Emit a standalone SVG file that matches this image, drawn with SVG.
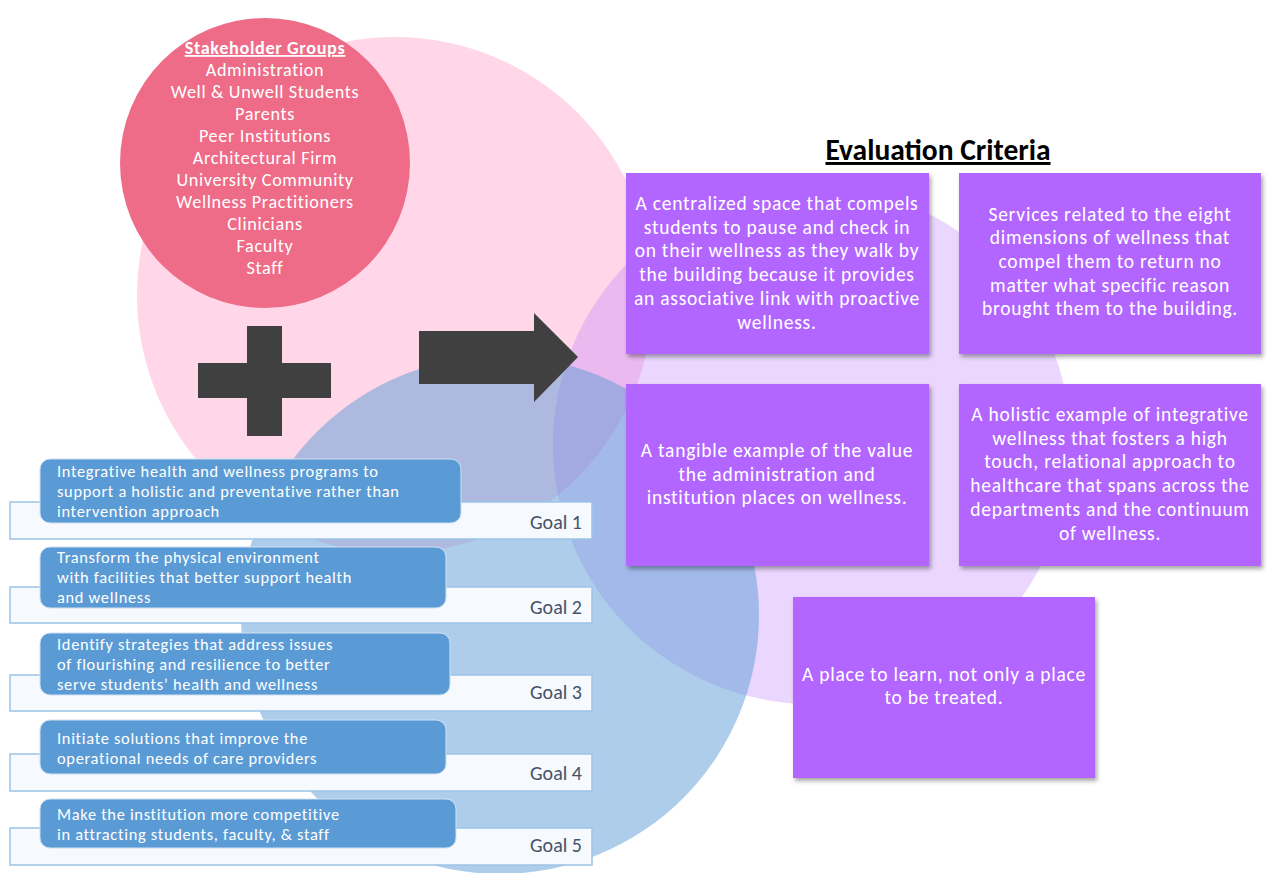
<svg xmlns="http://www.w3.org/2000/svg" width="1267" height="873" viewBox="0 0 1267 873">
  <style>
    .f { font-family: Carlito, Calibri, Lato, "Liberation Sans", sans-serif; }
    .stake { fill: #ffffff; font-size: 18.2px; letter-spacing: 0.65px; text-anchor: middle; }
    .goalbox { fill: #5b9bd5; stroke: #cfe0f1; stroke-width: 1; }
    .goalframe { fill: #f6f9fd; stroke: #9dc3e6; stroke-width: 1.5; }
    .goaltxt { fill: #ffffff; font-size: 16.4px; letter-spacing: 0.7px; }
    .goallbl { fill: #44546a; font-size: 20px; text-anchor: end; }
    .crit { fill: #b266ff; filter: url(#shadow); }
    .crittxt { fill: #ffffff; font-size: 19.5px; letter-spacing: 0.75px; text-anchor: middle; }
    .dark { fill: #404040; }
  </style>
  <defs>
    <filter id="shadow" x="-10%" y="-10%" width="125%" height="125%">
      <feDropShadow dx="2" dy="3" stdDeviation="2" flood-color="#000000" flood-opacity="0.35"/>
    </filter>
  </defs>

  <rect width="1267" height="873" fill="#ffffff"/>

  <!-- background circles -->
  <g id="backdrop">
    <circle cx="395" cy="295" r="258" fill="#ffd7e9"/>
    <circle cx="812" cy="445" r="259" fill="#b266ff" fill-opacity="0.27"/>
    <circle cx="500" cy="615" r="259" fill="#5b9bd5" fill-opacity="0.5"/>
  </g>

  <!-- stakeholder circle -->
  <g id="stakeholders" class="f">
    <circle cx="265" cy="163" r="145" fill="#ee6c87"/>
    <text class="stake" x="265" y="54" font-weight="bold" text-decoration="underline">Stakeholder Groups</text>
    <text class="stake" x="265" y="76">Administration</text>
    <text class="stake" x="265" y="98">Well &amp; Unwell Students</text>
    <text class="stake" x="265" y="120">Parents</text>
    <text class="stake" x="265" y="142">Peer Institutions</text>
    <text class="stake" x="265" y="164">Architectural Firm</text>
    <text class="stake" x="265" y="186">University Community</text>
    <text class="stake" x="265" y="208">Wellness Practitioners</text>
    <text class="stake" x="265" y="230">Clinicians</text>
    <text class="stake" x="265" y="252">Faculty</text>
    <text class="stake" x="265" y="274">Staff</text>
  </g>

  <!-- plus and arrow -->
  <g id="connectors">
    <polygon class="dark" points="247,326 282,326 282,363 331,363 331,398 282,398 282,436 247,436 247,398 198,398 198,363 247,363"/>
    <polygon class="dark" points="419,331 534,331 534,313 578,357 534,402 534,384 419,384"/>
  </g>

  <!-- goals -->
  <g id="goal1" class="f">
    <rect class="goalframe" x="10" y="502" width="582" height="37"/>
    <rect class="goalbox" x="40" y="459" width="421" height="64" rx="10"/>
    <text class="goaltxt" x="57" y="477">Integrative health and wellness programs to</text>
    <text class="goaltxt" x="57" y="497">support a holistic and preventative rather than</text>
    <text class="goaltxt" x="57" y="517">intervention approach</text>
    <text class="goallbl" x="582" y="529">Goal 1</text>
  </g>
  <g id="goal2" class="f">
    <rect class="goalframe" x="10" y="587" width="582" height="36"/>
    <rect class="goalbox" x="40" y="547" width="406" height="61" rx="10"/>
    <text class="goaltxt" x="57" y="563">Transform the physical environment</text>
    <text class="goaltxt" x="57" y="583">with facilities that better support health</text>
    <text class="goaltxt" x="57" y="603">and wellness</text>
    <text class="goallbl" x="582" y="614">Goal 2</text>
  </g>
  <g id="goal3" class="f">
    <rect class="goalframe" x="10" y="675" width="582" height="36"/>
    <rect class="goalbox" x="40" y="633" width="410" height="62" rx="10"/>
    <text class="goaltxt" x="57" y="650">Identify strategies that address issues</text>
    <text class="goaltxt" x="57" y="670">of flourishing and resilience to better</text>
    <text class="goaltxt" x="57" y="690">serve students’ health and wellness</text>
    <text class="goallbl" x="582" y="699">Goal 3</text>
  </g>
  <g id="goal4" class="f">
    <rect class="goalframe" x="10" y="754" width="582" height="37"/>
    <rect class="goalbox" x="40" y="720" width="406" height="54" rx="10"/>
    <text class="goaltxt" x="57" y="744">Initiate solutions that improve the</text>
    <text class="goaltxt" x="57" y="764">operational needs of care providers</text>
    <text class="goallbl" x="582" y="780">Goal 4</text>
  </g>
  <g id="goal5" class="f">
    <rect class="goalframe" x="10" y="828" width="582" height="37"/>
    <rect class="goalbox" x="40" y="799" width="416" height="49" rx="10"/>
    <text class="goaltxt" x="57" y="820">Make the institution more competitive</text>
    <text class="goaltxt" x="57" y="840">in attracting students, faculty, &amp; staff</text>
    <text class="goallbl" x="582" y="852">Goal 5</text>
  </g>

  <!-- evaluation criteria -->
  <g id="criteria-title" class="f">
    <text x="938" y="160" font-size="29.5" font-weight="bold" text-anchor="middle" fill="#000000" text-decoration="underline">Evaluation Criteria</text>
  </g>
  <g id="crit1" class="f">
    <rect class="crit" x="626" y="173" width="303" height="181"/>
    <text class="crittxt" x="777" y="210">A centralized space that compels</text>
    <text class="crittxt" x="777" y="234">students to pause and check in</text>
    <text class="crittxt" x="777" y="257">on their wellness as they walk by</text>
    <text class="crittxt" x="777" y="281">the building because it provides</text>
    <text class="crittxt" x="777" y="305">an associative link with proactive</text>
    <text class="crittxt" x="777" y="329">wellness.</text>
  </g>
  <g id="crit2" class="f">
    <rect class="crit" x="959" y="173" width="302" height="181"/>
    <text class="crittxt" x="1110" y="221">Services related to the eight</text>
    <text class="crittxt" x="1110" y="244">dimensions of wellness that</text>
    <text class="crittxt" x="1110" y="268">compel them to return no</text>
    <text class="crittxt" x="1110" y="292">matter what specific reason</text>
    <text class="crittxt" x="1110" y="315">brought them to the building.</text>
  </g>
  <g id="crit3" class="f">
    <rect class="crit" x="626" y="384" width="303" height="182"/>
    <text class="crittxt" x="777" y="457">A tangible example of the value</text>
    <text class="crittxt" x="777" y="481">the administration and</text>
    <text class="crittxt" x="777" y="504">institution places on wellness.</text>
  </g>
  <g id="crit4" class="f">
    <rect class="crit" x="959" y="384" width="302" height="182"/>
    <text class="crittxt" x="1110" y="421">A holistic example of integrative</text>
    <text class="crittxt" x="1110" y="445">wellness that fosters a high</text>
    <text class="crittxt" x="1110" y="468">touch, relational approach to</text>
    <text class="crittxt" x="1110" y="492">healthcare that spans across the</text>
    <text class="crittxt" x="1110" y="516">departments and the continuum</text>
    <text class="crittxt" x="1110" y="540">of wellness.</text>
  </g>
  <g id="crit5" class="f">
    <rect class="crit" x="793" y="597" width="302" height="181"/>
    <text class="crittxt" x="944" y="681">A place to learn, not only a place</text>
    <text class="crittxt" x="944" y="704">to be treated.</text>
  </g>
</svg>
